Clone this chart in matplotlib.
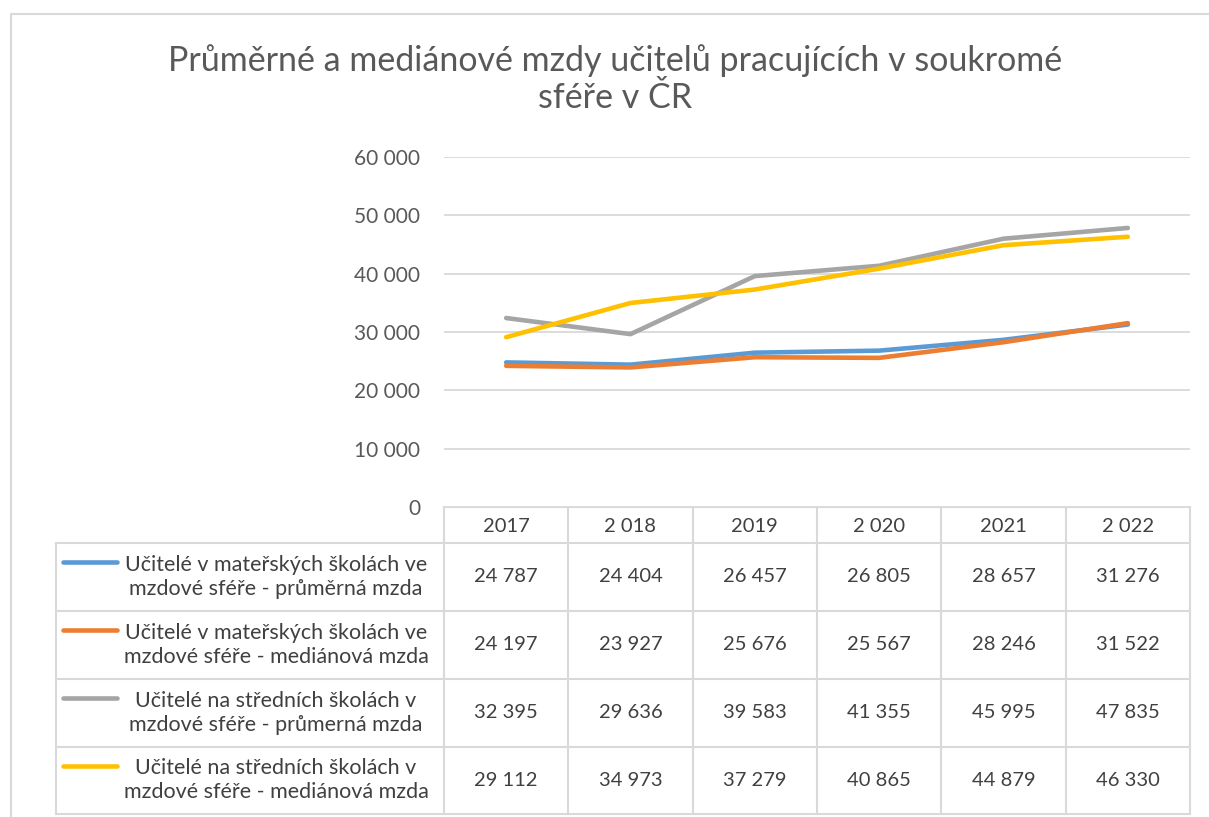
import matplotlib.pyplot as plt
from matplotlib.lines import Line2D
from matplotlib.ticker import FuncFormatter

plt.rcParams['font.family'] = ['Lato', 'DejaVu Sans']

years = ["2017", "2 018", "2019", "2 020", "2021", "2 022"]

series_names = [
    "Učitelé v mateřských školách ve\nmzdové sféře - průměrná mzda",
    "Učitelé v mateřských školách ve\nmzdové sféře - mediánová mzda",
    "Učitelé na středních školách v\nmzdové sféře - průmerná mzda",
    "Učitelé na středních školách v\nmzdové sféře - mediánová mzda",
]

ms_prumer = [24787, 24404, 26457, 26805, 28657, 31276]
ms_median = [24197, 23927, 25676, 25567, 28246, 31522]
ss_prumer = [32395, 29636, 39583, 41355, 45995, 47835]
ss_median = [29112, 34973, 37279, 40865, 44879, 46330]

colors = ["#5b9bd5", "#ed7d31", "#a5a5a5", "#ffc000"]

W, H = 1209, 817
fig = plt.figure(figsize=(W / 100, H / 100), dpi=100)

# chart border
frame = fig.add_axes([0, 0, 1, 1])
frame.set_xlim(0, W)
frame.set_ylim(H, 0)
frame.axis('off')
frame.plot([11, 11, W], [H, 14, 14], color="#d9d9d9", lw=1.5)

# plot area: x 444..1190, y 157..507 (pixels from top)
x0, x1, ytop, ybot = 444, 1190, 157, 507
ax = fig.add_axes([x0 / W, 1 - ybot / H, (x1 - x0) / W, (ybot - ytop) / H])
ax.set_xlim(-0.5, len(years) - 0.5)
ax.set_ylim(0, 60000)
ax.set_yticks(range(0, 60001, 10000))
ax.yaxis.set_major_formatter(FuncFormatter(lambda v, p: f"{int(v):,}".replace(",", " ")))
ax.tick_params(axis='y', length=0, pad=17, labelsize=15, labelcolor="#595959")
ax.set_xticks([])
ax.grid(axis='y', color="#d9d9d9", lw=1.3)
ax.set_axisbelow(True)
for s in ax.spines.values():
    s.set_visible(False)

all_series = [ms_prumer, ms_median, ss_prumer, ss_median]
xs = range(len(years))
for vals, c in zip(all_series, colors):
    ax.plot(xs, vals, color=c, lw=3.3, solid_capstyle='round', solid_joinstyle='round')

fig.text(615 / W, 1 - 79 / H,
         "Průměrné a mediánové mzdy učitelů pracujících v soukromé\nsféře v ČR",
         ha='center', va='center', fontsize=24.5, color="#595959", linespacing=1.2)

# data table
grid_c = "#d9d9d9"
col_edges = [x0 + i * (x1 - x0) / len(years) for i in range(len(years) + 1)]
row_edges = [507, 543, 611, 679, 747, 814]
tleft = 56

# horizontal lines
frame.plot([x0, x1], [row_edges[0]] * 2, color=grid_c, lw=1.5)
for y in row_edges[1:]:
    frame.plot([tleft, x1], [y, y], color=grid_c, lw=1.5)
# vertical lines
frame.plot([tleft, tleft], [row_edges[1], row_edges[-1]], color=grid_c, lw=1.5)
for xe in col_edges:
    frame.plot([xe, xe], [row_edges[0], row_edges[-1]], color=grid_c, lw=1.5)

for i, yr in enumerate(years):
    cx = (col_edges[i] + col_edges[i + 1]) / 2
    frame.text(cx, (row_edges[0] + row_edges[1]) / 2 + 1, yr, ha='center', va='center',
               fontsize=14.5, color="#404040")

for r, (name, vals, c) in enumerate(zip(series_names, all_series, colors)):
    yt, yb = row_edges[r + 1], row_edges[r + 2]
    cy = (yt + yb) / 2
    frame.add_line(Line2D([63, 117], [cy - 15, cy - 15], color=c, lw=3.3, solid_capstyle='round'))
    frame.text(276, cy, name, ha='center', va='center', fontsize=15.5, color="#404040",
               linespacing=1.25, multialignment='center')
    for i, v in enumerate(vals):
        cx = (col_edges[i] + col_edges[i + 1]) / 2
        frame.text(cx, cy, f"{v:,}".replace(",", " "), ha='center', va='center',
                   fontsize=14.5, color="#404040")

fig.savefig("out.png", dpi=100)
